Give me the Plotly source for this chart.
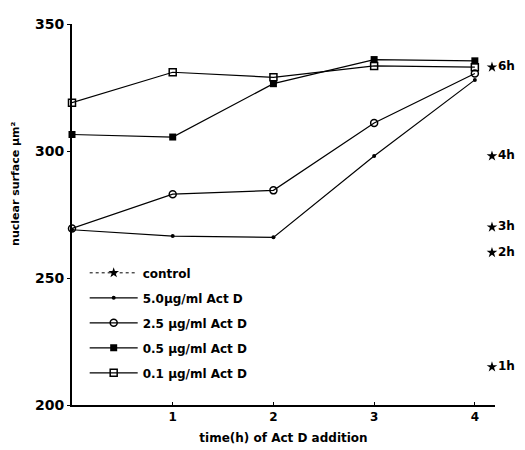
import plotly.graph_objects as go

# ---- data ----
times = [0, 1, 2, 3, 4]
act5_0 = [269, 266.5, 266, 298, 328]
act2_5 = [269.5, 283, 284.5, 311, 330.5]
act0_5 = [306.5, 305.5, 326.5, 336, 335.5]
act0_1 = [319, 331, 329, 333.5, 333]

control_labels = ["1h", "2h", "3h", "4h", "6h"]
control_values = [215, 260, 270, 298, 333]
control_x = 4.17

x_ticks = [1, 2, 3, 4]
y_ticks = [200, 250, 300, 350]

FONT = "DejaVu Sans"

fig = go.Figure()

# control stars: separate points (gaps so no connecting line is drawn)
cx, cy = [], []
for v in control_values:
    cx += [control_x, None]
    cy += [v, None]
fig.add_trace(go.Scatter(
    x=cx, y=cy, mode="lines+markers+text", name="control",
    text=[t for lab in control_labels for t in (lab, None)],
    textposition="middle right",
    textfont=dict(family=FONT, size=12, color="black", weight="bold"),
    marker=dict(symbol="star", size=8, color="black"),
    line=dict(color="black", width=1, dash="dot"),
    connectgaps=False, cliponaxis=False, legendgroup="a"))

series = [
    ("5.0\u00b5g/ml Act D", act5_0, dict(symbol="circle", size=4, color="black"), "b"),
    ("2.5 \u00b5g/ml Act D", act2_5, dict(symbol="circle-open", size=7, color="black", line=dict(width=1.5)), "c"),
    ("0.5 \u00b5g/ml Act D", act0_5, dict(symbol="square", size=7, color="black"), "d"),
    ("0.1 \u00b5g/ml Act D", act0_1, dict(symbol="square-open", size=7, color="black", line=dict(width=1.5)), "e"),
]
for name, ys, mk, grp in series:
    fig.add_trace(go.Scatter(
        x=times, y=ys, mode="lines+markers", name=name, marker=mk,
        line=dict(color="black", width=1.2), cliponaxis=False, legendgroup=grp))

# page body has an 8px margin, so the figure is 8px smaller and shifted
fig.update_layout(
    width=517, height=442,
    margin=dict(l=64, r=30, t=16, b=45, autoexpand=False),
    paper_bgcolor="white", plot_bgcolor="white",
    font=dict(family=FONT, size=12, color="black", weight="bold"),
    showlegend=True,
    legend=dict(x=0.03, y=0.385, xanchor="left", yanchor="top", itemwidth=48,
                bgcolor="rgba(0,0,0,0)", traceorder="grouped", tracegroupgap=6,
                font=dict(family=FONT, size=12, color="black", weight="bold")),
    xaxis=dict(range=[0, 4.2], tickvals=x_ticks, showgrid=False, zeroline=False,
               showline=True, linecolor="black", linewidth=2, automargin=False,
               ticks="inside", ticklen=3, tickcolor="black",
               tickfont=dict(family=FONT, size=12, weight="bold"),
               title=dict(text="time(h) of Act D addition", standoff=10,
                          font=dict(family=FONT, size=12, weight="bold"))),
    yaxis=dict(range=[200, 350], tickvals=y_ticks, showgrid=False, zeroline=False,
               showline=True, linecolor="black", linewidth=2, automargin=False,
               ticks="outside", ticklen=3, tickcolor="black",
               tickfont=dict(family=FONT, size=14, weight="bold")),
    annotations=[dict(text="nuclear surface \u00b5m\u00b2", textangle=-90,
                      xref="paper", yref="paper", x=-0.135, y=0.58,
                      showarrow=False, xanchor="center", yanchor="middle",
                      font=dict(family=FONT, size=11, color="black", weight="bold"))],
)

fig.write_html("out.html")
